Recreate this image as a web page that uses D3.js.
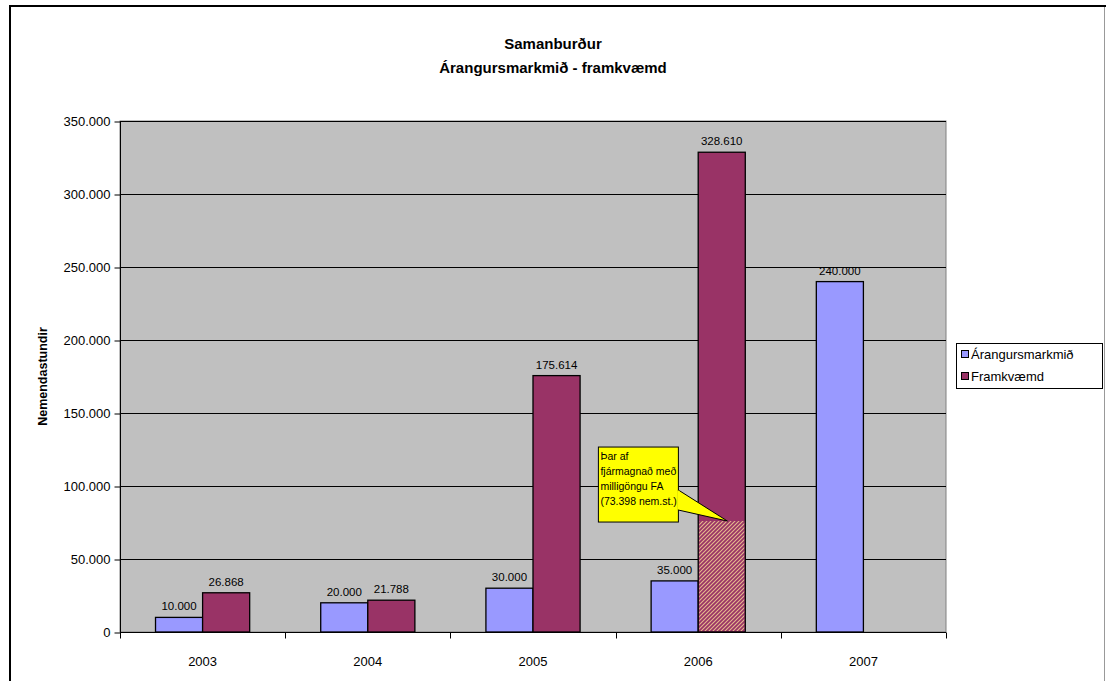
<!DOCTYPE html>
<html><head><meta charset="utf-8">
<script src="https://cdn.jsdelivr.net/npm/d3@7/dist/d3.min.js"></script>
<style>body{margin:0;background:#fff;} svg{display:block;font-family:"Liberation Sans",Arial,sans-serif;}</style>
</head><body>
<svg id="c" width="1106" height="681"></svg>
<script>
const categories = ["2003","2004","2005","2006","2007"];
const seriesNames = ["Árangursmarkmið","Framkvæmd"];
const arangur = [10000, 20000, 30000, 35000, 240000];
const framkvaemd = [26868, 21788, 175614, 328610, null];
const faPart = [null, null, null, 76000, null];
const yTicks = [0,50000,100000,150000,200000,250000,300000,350000];
const calloutLines = ["Þar af","fjármagnað með","milligöngu FA","(73.398 nem.st.)"];
const colors = ["#9999ff","#993366"];

const svg = d3.select("#c");
const fmt = v => v===0 ? "0" : d3.format(",")(v).replace(/,/g,".");

// frame
svg.append("line").attr("x1",10).attr("x2",1106).attr("y1",6).attr("y2",6).attr("stroke","#000").attr("stroke-width",2);
svg.append("line").attr("x1",10).attr("x2",10).attr("y1",5).attr("y2",681).attr("stroke","#000").attr("stroke-width",2);
svg.append("line").attr("x1",1104.5).attr("x2",1104.5).attr("y1",7).attr("y2",681).attr("stroke","#999").attr("stroke-width",1);

const L=120, R=946, T=121, B=632;
const x = d3.scaleBand().domain(categories).range([L,R]).paddingInner(0).paddingOuter(0);
const y = d3.scaleLinear().domain([0,350000]).range([B,T]);
const bw = x.bandwidth()*0.285;

// defs hatch
const defs = svg.append("defs");
const pat = defs.append("pattern").attr("id","hatch").attr("patternUnits","userSpaceOnUse")
  .attr("width",4).attr("height",4);
pat.append("rect").attr("width",4).attr("height",4).attr("fill","#993366");
pat.append("path").attr("d","M-1,1 l2,-2 M0,4 l4,-4 M3,5 l2,-2").attr("stroke","#e6b98c").attr("stroke-width",1.1);

// plot area
svg.append("rect").attr("x",L).attr("y",T).attr("width",R-L).attr("height",B-T).attr("fill","#c0c0c0").attr("stroke","#808080");
// gridlines
svg.append("g").selectAll("line").data(yTicks.slice(1)).join("line")
  .attr("x1",L).attr("x2",R).attr("y1",d=>Math.round(y(d))+0.5).attr("y2",d=>Math.round(y(d))+0.5)
  .attr("stroke","#000").attr("stroke-width",1);

// y axis
const ya = svg.append("g").attr("transform",`translate(${L+0.5},0)`)
  .call(d3.axisLeft(y).tickValues(yTicks).tickFormat(fmt).tickSize(6).tickPadding(4));
ya.selectAll("text").attr("font-size",13).attr("fill","#000").attr("font-family","Liberation Sans, Arial");
ya.selectAll("line,path").attr("stroke","#000");
ya.select("path").attr("d",`M-0,${T}V${B}`);
ya.selectAll(".tick line").attr("transform","translate(0,0.5)");

// x axis
const xa = svg.append("g").attr("transform",`translate(0,${B+0.5})`);
xa.append("line").attr("x1",L).attr("x2",R).attr("stroke","#000");
xa.selectAll(".tk").data(categories.concat(["end"])).join("line")
  .attr("x1",(d,i)=>Math.round(L+i*x.bandwidth())+0.5).attr("x2",(d,i)=>Math.round(L+i*x.bandwidth())+0.5)
  .attr("y1",0).attr("y2",6).attr("stroke","#000");
xa.selectAll("text").data(categories).join("text")
  .attr("x",d=>x(d)+x.bandwidth()/2).attr("y",33).attr("text-anchor","middle")
  .attr("font-size",13).text(d=>d);

// bars
const series=[arangur,framkvaemd];
series.forEach((vals,si)=>{
  const g=svg.append("g");
  const data=categories.map((c,i)=>({c,v:vals[i],i})).filter(d=>d.v!=null);
  const cx = d=> x(d.c)+x.bandwidth()/2 + (si===0?-bw:0);
  g.selectAll("rect").data(data).join("rect")
    .attr("x",d=>cx(d)).attr("width",bw).attr("y",d=>y(d.v)).attr("height",d=>B-y(d.v))
    .attr("fill",colors[si]).attr("stroke","#000").attr("stroke-width",1.3);
  g.selectAll("text").data(data).join("text")
    .attr("x",d=>cx(d)+bw/2).attr("y",d=>y(d.v)-7).attr("text-anchor","middle")
    .attr("font-size",11.5).attr("fill","#000").text(d=>fmt(d.v));
});

// hatched part
const hd = categories.map((c,i)=>({c,v:faPart[i]})).filter(d=>d.v!=null);
svg.append("g").selectAll("rect").data(hd).join("rect")
  .attr("x",d=>x(d.c)+x.bandwidth()/2+1).attr("width",bw-2)
  .attr("y",d=>y(d.v)).attr("height",d=>B-y(d.v)-1).attr("fill","url(#hatch)");

// callout
hd.forEach(d=>{
  const tipX = x(d.c)+x.bandwidth()/2+bw*0.62, tipY=y(d.v);
  const bx = tipX-129, by = tipY-74, bwid=80, bh=75;
  const g=svg.append("g");
  g.append("rect").attr("x",bx).attr("y",by).attr("width",bwid).attr("height",bh).attr("fill","#ffff00").attr("stroke","#000");
  g.append("path").attr("d",`M${bx+bwid},${by+43} L${tipX},${tipY} L${bx+bwid},${by+63} Z`).attr("fill","#ffff00").attr("stroke","#000");
  g.append("rect").attr("x",bx+bwid-1).attr("y",by+43.5).attr("width",2).attr("height",19).attr("fill","#ffff00");
  g.selectAll("text").data(calloutLines).join("text")
    .attr("x",bx+2).attr("y",(t,i)=>by+13+i*15).attr("font-size",10.5).attr("fill","#000").text(t=>t);
});

// title
svg.append("text").attr("x",553).attr("y",49).attr("text-anchor","middle").attr("font-weight","bold").attr("font-size",15).text("Samanburður");
svg.append("text").attr("x",553).attr("y",73).attr("text-anchor","middle").attr("font-weight","bold").attr("font-size",15).text("Árangursmarkmið - framkvæmd");

// y label
svg.append("text").attr("transform",`translate(47,${(T+B)/2}) rotate(-90)`).attr("text-anchor","middle")
  .attr("font-weight","bold").attr("font-size",12.5).text("Nemendastundir");

// legend
const lg=svg.append("g");
lg.append("rect").attr("x",956.5).attr("y",343.5).attr("width",146).attr("height",45).attr("fill","#fff").attr("stroke","#000");
seriesNames.forEach((n,i)=>{
  lg.append("rect").attr("x",961.5).attr("y",350.5+i*22).attr("width",7).attr("height",7).attr("fill",colors[i]).attr("stroke","#000");
  lg.append("text").attr("x",971).attr("y",359+i*22).attr("font-size",13).text(n);
});
</script>
</body></html>
